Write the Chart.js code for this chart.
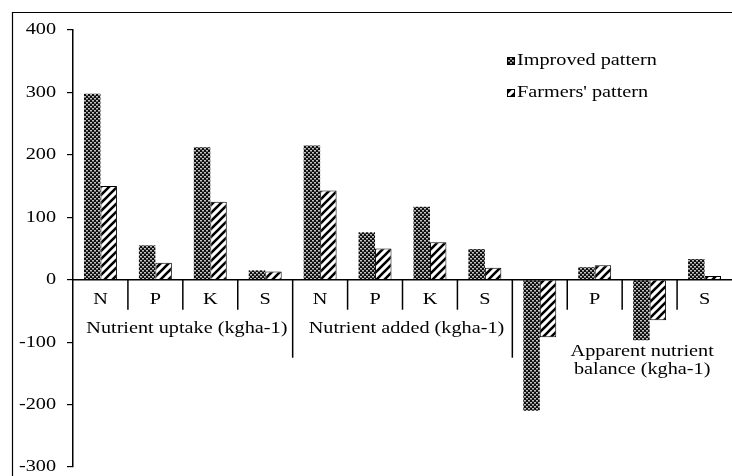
<!DOCTYPE html>
<html lang="en">
<head>
  <meta charset="UTF-8">
  <title>Nutrient uptake, added and balance</title>
  <script src="https://cdn.jsdelivr.net/npm/chart.js"></script>
  <style>
    html, body { margin: 0; padding: 0; background: #fff; }
    #wrap { width: 732px; height: 476px; }
  </style>
</head>
<body>
  <div id="wrap"><canvas id="nutrientChart" width="732" height="476"></canvas></div>

  <script>
    const nutrients = ["N", "P", "K", "S", "N", "P", "K", "S", "N", "P", "K", "S"];
    const groups = ["Nutrient uptake (kgha-1)", "Nutrient added (kgha-1)", ["Apparent nutrient", "balance (kgha-1)"]];
    const improved = [298, 55, 212, 15, 215, 76, 117, 49, -210, 20, -97, 33];
    const farmers = [150, 27, 125, 13, 143, 50, 60, 19, -92, 23, -65, 6];
    const seriesNames = ["Improved pattern", "Farmers' pattern"];
    const yTicks = [-300, -200, -100, 0, 100, 200, 300, 400];

    const FONT = "17px 'Liberation Serif', 'Times New Roman', serif";
    const STRETCH = 1.19; // the original text is set a bit wide

    function wideText(ctx, text, x, y, align) {
      ctx.save();
      ctx.translate(x, y);
      ctx.scale(STRETCH, 1);
      ctx.textAlign = align;
      ctx.fillText(text, 0, 0);
      ctx.restore();
    }

    function meshPattern() {
      const c = document.createElement("canvas");
      c.width = 4; c.height = 4;
      const g = c.getContext("2d");
      g.fillStyle = "#0d0d0d";
      g.fillRect(0, 0, 4, 4);
      g.fillStyle = "#c4c4c4";
      g.fillRect(0, 0, 2, 1);
      g.fillRect(2, 2, 2, 1);
      g.fillStyle = "#6a6a6a";
      g.fillRect(0, 1, 2, 1);
      g.fillRect(2, 3, 2, 1);
      return g.createPattern(c, "repeat");
    }

    function stripePattern() {
      const c = document.createElement("canvas");
      c.width = 8; c.height = 8;
      const g = c.getContext("2d");
      g.fillStyle = "#fff";
      g.fillRect(0, 0, 8, 8);
      g.strokeStyle = "#000";
      g.lineWidth = 2.6;
      g.beginPath();
      g.moveTo(-2, 2); g.lineTo(2, -2);
      g.moveTo(0, 8); g.lineTo(8, 0);
      g.moveTo(6, 10); g.lineTo(10, 6);
      g.stroke();
      return g.createPattern(c, "repeat");
    }

    const mesh = meshPattern();
    const stripes = stripePattern();

    // zero line, separators, category letters, group labels, y labels, legend
    const axisDecor = {
      id: "axisDecor",
      beforeDatasetsDraw(chart) {
        const ctx = chart.ctx, x = chart.scales.x, y = chart.scales.y;
        const y0 = y.getPixelForValue(0);
        ctx.save();
        ctx.fillStyle = "#000";
        ctx.font = FONT;
        ctx.textBaseline = "middle";
        nutrients.forEach((n, i) => wideText(ctx, n, x.getPixelForValue(i), y0 + 20, "center"));
        ctx.strokeStyle = "#000";
        ctx.lineWidth = 1.5;
        for (let i = 1; i < nutrients.length; i++) {
          const px = (x.getPixelForValue(i - 1) + x.getPixelForValue(i)) / 2;
          const len = (i % 4 === 0) ? 78 : 30;
          ctx.beginPath();
          ctx.moveTo(px, y0);
          ctx.lineTo(px, y0 + len);
          ctx.stroke();
        }
        groups.forEach((label, gi) => {
          const cx = (x.getPixelForValue(gi * 4) + x.getPixelForValue(gi * 4 + 3)) / 2;
          if (Array.isArray(label)) {
            wideText(ctx, label[0], cx + 20, y0 + 72, "center");
            wideText(ctx, label[1], cx + 20, y0 + 90, "center");
          } else {
            wideText(ctx, label, cx + 4, y0 + 49, "center");
          }
        });
        yTicks.forEach(v => wideText(ctx, String(v), 56, y.getPixelForValue(v), "right"));
        ctx.restore();
      },
      afterDatasetsDraw(chart) {
        const ctx = chart.ctx, y = chart.scales.y, area = chart.chartArea;
        const y0 = y.getPixelForValue(0);
        ctx.save();
        ctx.strokeStyle = "#000";
        ctx.lineWidth = 1.5;
        ctx.beginPath();
        ctx.moveTo(area.left - 1, y0);
        ctx.lineTo(chart.width, y0);
        ctx.stroke();

        // legend
        ctx.font = FONT;
        ctx.textBaseline = "middle";
        const fills = [mesh, stripes];
        const rows = [61, 93];
        seriesNames.forEach((name, i) => {
          ctx.fillStyle = fills[i];
          ctx.fillRect(507, rows[i] - 4, 8, 8);
          ctx.lineWidth = 1;
          ctx.strokeStyle = "#000";
          ctx.strokeRect(507.5, rows[i] - 3.5, 7, 7);
          ctx.fillStyle = "#000";
          wideText(ctx, name, 517, rows[i], "left");
        });

        // outer frame
        ctx.lineWidth = 1.2;
        ctx.beginPath();
        ctx.moveTo(12.5, chart.height);
        ctx.lineTo(12.5, 12.5);
        ctx.lineTo(chart.width, 12.5);
        ctx.stroke();
        ctx.restore();
      }
    };

    Chart.defaults.font.family = "'Liberation Serif', 'Times New Roman', serif";
    Chart.defaults.font.size = 17;
    Chart.defaults.color = "#000";

    new Chart(document.getElementById("nutrientChart"), {
      type: "bar",
      data: {
        labels: nutrients,
        datasets: [
          {
            label: seriesNames[0],
            data: improved,
            backgroundColor: mesh,
            borderWidth: 0
          },
          {
            label: seriesNames[1],
            data: farmers,
            backgroundColor: stripes,
            borderColor: "#000",
            borderWidth: 1
          }
        ]
      },
      options: {
        responsive: false,
        animation: false,
        layout: { padding: { top: 30, right: 0, bottom: 9, left: 0 } },
        datasets: { bar: { categoryPercentage: 0.6, barPercentage: 1 } },
        scales: {
          x: { display: false, offset: true },
          y: {
            min: -300,
            max: 400,
            afterBuildTicks(scale) { scale.ticks = yTicks.map(v => ({ value: v })); },
            afterFit(scale) {
              scale.width = 73;
              scale.paddingTop = 0;
              scale.paddingBottom = 0;
            },
            ticks: { padding: 9, color: "rgba(0,0,0,0)", font: { size: 17 } },
            grid: { drawOnChartArea: false, drawTicks: true, tickLength: 6, color: "#000", lineWidth: 1.2 },
            border: { color: "#000", width: 1.5 }
          }
        },
        plugins: {
          legend: { display: false },
          tooltip: { enabled: false }
        }
      },
      plugins: [axisDecor]
    });
  </script>
</body>
</html>
